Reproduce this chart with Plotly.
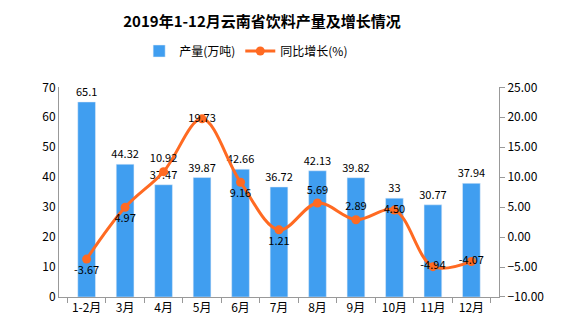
import plotly.graph_objects as go

months = ["1-2月", "3月", "4月", "5月", "6月", "7月", "8月", "9月", "10月", "11月", "12月"]
output = [65.1, 44.32, 37.47, 39.87, 42.66, 36.72, 42.13, 39.82, 33, 30.77, 37.94]
output_text = ["65.1", "44.32", "37.47", "39.87", "42.66", "36.72", "42.13", "39.82", "33", "30.77", "37.94"]
growth = [-3.67, 4.97, 10.92, 19.73, 9.16, 1.21, 5.69, 2.89, 4.50, -4.94, -4.07]
growth_text = ["-3.67", "4.97", "10.92", "19.73", "9.16", "1.21", "5.69", "2.89", "4.50", "-4.94", "-4.07"]
growth_pos = ["bottom center", "bottom center", "top center", "middle center", "bottom center",
              "bottom center", "top center", "top center", "middle center", "middle center", "middle center"]

FONT = "Noto Sans CJK SC"
BLUE = "#409EF0"
ORANGE = "#FF6A22"

fig = go.Figure()
fig.add_trace(go.Bar(
    x=months, y=output, name="产量(万吨)", marker_color=BLUE, width=0.46,
    text=output_text, textposition="outside", cliponaxis=False, constraintext="none",
    textfont=dict(size=11, color="#000000", family=FONT),
))
fig.add_trace(go.Scatter(
    x=months, y=growth, name="同比增长(%)", yaxis="y2", mode="lines+markers+text",
    line=dict(color=ORANGE, width=3, shape="spline", smoothing=1.0),
    marker=dict(size=9, color=ORANGE),
    text=growth_text, textposition=growth_pos, cliponaxis=False,
    textfont=dict(size=11, color="#000000", family=FONT),
))

fig.update_layout(
    width=576, height=327,
    margin=dict(l=59, r=77, t=72, b=30),
    paper_bgcolor="white", plot_bgcolor="white",
    font=dict(family=FONT, size=12, color="#000000"),
    title=dict(text="<b>2019年1-12月云南省饮料产量及增长情况</b>", x=262/576, xanchor="center",
               y=1 - 22/327, yanchor="middle", font=dict(size=15, family=FONT)),
    legend=dict(orientation="h", x=245/576, xanchor="center", y=1 - 51/327, yanchor="middle",
                yref="container", font=dict(size=12, family=FONT), itemwidth=30,
                bgcolor="rgba(0,0,0,0)"),
    xaxis=dict(showline=True, linecolor="#999999", linewidth=1, ticks="outside", tickcolor="#999999",
               ticklen=5, tickson="boundaries", tickangle=0, tickfont=dict(size=12), showgrid=False),
    yaxis=dict(range=[0, 70], dtick=10, showline=True, linecolor="#999999", linewidth=1,
               showgrid=False, zeroline=False, ticks="", tickfont=dict(size=12)),
    yaxis2=dict(range=[-10, 25], dtick=5, overlaying="y", side="right", tickformat=".2f",
                showline=True, linecolor="#999999", linewidth=1, ticks="outside", tickcolor="#999999",
                ticklen=5, showgrid=False, zeroline=False, tickfont=dict(size=12)),
)

fig.write_html("out.html", post_script=(
    "var d=document.getElementById('{plot_id}');"
    "d.style.outline='1px solid #888888';d.style.outlineOffset='-1px';"
))
